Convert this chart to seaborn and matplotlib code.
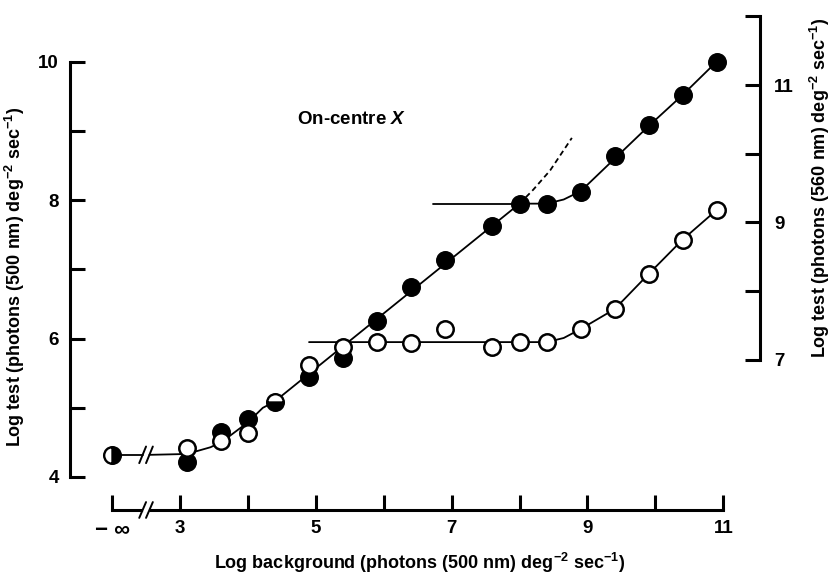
"""
Increment-threshold curves for an on-centre X cell: log test vs log background.
"""

import matplotlib

matplotlib.use("Agg")

import matplotlib.pyplot as plt
import seaborn as sns


# x position used for the "-inf" background column
NEG_INF_POS = 2.0
BREAK_X = 2.5

X_TICKS = [2, 3, 4, 5, 6, 7, 8, 9, 10, 11]
X_TICK_LABELS = ["\u2212 \u221e", "3", "", "5", "", "7", "", "9", "", "11"]
LEFT_TICKS = [4, 5, 6, 7, 8, 9, 10]
LEFT_TICK_LABELS = ["4", "", "6", "", "8", "", "10"]
RIGHT_TICKS = [7, 8, 9, 10, 11, 12]
RIGHT_TICK_LABELS = ["7", "", "9", "", "11", ""]

# filled circles: 500 nm test (left axis)
filled_x = [3.1, 3.6, 4.0, 4.9, 5.4, 5.9, 6.4, 6.9, 7.6, 8.0, 8.4, 8.9, 9.4, 9.9, 10.4, 10.9]
filled_y = [4.22, 4.65, 4.84, 5.45, 5.72, 6.25, 6.75, 7.14, 7.63, 7.95, 7.95, 8.12, 8.64, 9.09, 9.52, 10.00]

# open circles: 560 nm test (right axis)
open_x = [3.1, 3.6, 4.0, 4.9, 5.4, 5.9, 6.4, 6.9, 7.6, 8.0, 8.4, 8.9, 9.4, 9.9, 10.4, 10.9]
open_y = [5.72, 5.82, 5.94, 6.93, 7.19, 7.26, 7.25, 7.45, 7.19, 7.26, 7.26, 7.45, 7.74, 8.25, 8.75, 9.18]

# points where both tests coincide (left-axis units)
both_x = [NEG_INF_POS, 4.4]
both_y = [4.32, 5.08]
both_fill = ["right", "bottom"]

# fitted template curve (left axis)
template_x = [2.55, 3.0, 3.2, 3.45, 3.62, 3.81, 4.0, 4.22, 4.38, 8.0, 8.4, 8.65, 8.9, 9.4, 9.9, 10.4, 10.9]
template_y = [4.32, 4.33, 4.36, 4.43, 4.51, 4.65, 4.79, 5.00, 5.08, 7.95, 7.95, 8.01, 8.13, 8.60, 9.07, 9.52, 10.00]
lead_x = [NEG_INF_POS, 2.45]
lead_y = [4.32, 4.32]
plateau_x = [6.73, 8.0]
plateau_y = [7.95, 7.95]
dashed_x = [8.0, 8.2, 8.45, 8.77]
dashed_y = [7.95, 8.15, 8.43, 8.90]

# open-circle curve (right axis)
open_curve_x = [4.9, 8.4, 8.65, 8.9, 9.4, 9.9, 10.4, 10.9]
open_curve_y = [7.26, 7.26, 7.32, 7.45, 7.74, 8.25, 8.75, 9.18]

FONT = "Liberation Sans"


def draw_break(ax, x, y, transform, dy):
    for off in (-0.05, 0.05):
        ax.plot([x + off - 0.05, x + off + 0.05], [y - dy, y + dy],
                color="black", lw=1.4, transform=transform, clip_on=False, zorder=6)


def main() -> None:
    sns.set_theme(style="ticks")
    plt.rcParams["font.family"] = [FONT, "DejaVu Sans"]
    plt.rcParams["font.weight"] = "bold"
    plt.rcParams["mathtext.fontset"] = "custom"
    plt.rcParams["mathtext.rm"] = f"{FONT}:bold"
    plt.rcParams["mathtext.it"] = f"{FONT}:italic:bold"
    plt.rcParams["mathtext.bf"] = f"{FONT}:bold"

    fig = plt.figure(figsize=(8.37, 5.79), dpi=100)
    ax = fig.add_axes([0.0836, 0.1192, 0.8244, 0.8532])
    ax2 = ax.twinx()

    line_kw = dict(color="black", lw=1.3, sort=False, estimator=None, legend=False)
    sns.lineplot(x=template_x, y=template_y, ax=ax, **line_kw)
    sns.lineplot(x=lead_x, y=lead_y, ax=ax, **line_kw)
    sns.lineplot(x=plateau_x, y=plateau_y, ax=ax, **line_kw)
    sns.lineplot(x=dashed_x, y=dashed_y, ax=ax, linestyle=(0, (3, 2)), **line_kw)
    sns.lineplot(x=open_curve_x, y=open_curve_y, ax=ax2, **line_kw)

    sns.scatterplot(x=filled_x, y=filled_y, ax=ax, s=160, color="black",
                    edgecolor="black", linewidth=1.0, zorder=4, legend=False)
    sns.scatterplot(x=open_x, y=open_y, ax=ax2, s=140, color="white",
                    edgecolor="black", linewidth=1.8, zorder=4, legend=False)
    for bx, by, fs in zip(both_x, both_y, both_fill):
        ax.plot([bx], [by], marker="o", markersize=12, fillstyle=fs,
                markerfacecolor="black", markerfacecoloralt="white",
                markeredgecolor="black", markeredgewidth=1.7, zorder=5)

    ax.set_xlim(1.38, 11.54)
    ax.set_ylim(3.523, 10.662)
    ax2.set_ylim(4.818, 12.004)

    for a in (ax, ax2):
        a.spines["top"].set_visible(False)
    ax.spines["right"].set_visible(False)
    ax2.spines["left"].set_visible(False)
    ax2.spines["bottom"].set_visible(False)
    ax.spines["left"].set_bounds(4, 10)
    ax.spines["bottom"].set_bounds(2, 11)
    ax2.spines["right"].set_bounds(7, 12)
    for sp in (ax.spines["left"], ax.spines["bottom"], ax2.spines["right"]):
        sp.set_linewidth(2.2)
        sp.set_color("black")

    ax.set_xticks(X_TICKS, X_TICK_LABELS)
    ax.set_yticks(LEFT_TICKS, LEFT_TICK_LABELS)
    ax2.set_yticks(RIGHT_TICKS, RIGHT_TICK_LABELS)
    ax.tick_params(axis="x", direction="in", length=11, width=2.2, pad=7,
                   labelsize=13.5, color="black", labelcolor="black")
    ax.tick_params(axis="y", direction="in", length=11, width=2.2, pad=8,
                   labelsize=13.5, color="black", labelcolor="black")
    ax2.tick_params(axis="y", direction="in", length=11, width=2.2, pad=10,
                    labelsize=13.5, color="black", labelcolor="black")
    for lab in ax.get_xticklabels() + ax.get_yticklabels() + ax2.get_yticklabels():
        lab.set_fontweight("bold")
    ax.get_xticklabels()[0].set_fontsize(16)

    ax.set_xlabel(r"Log background (photons (500 nm) deg$^{-2}$ sec$^{-1}$)",
                  fontsize=13, fontweight="bold", color="black")
    ax.set_ylabel(r"Log test (photons (500 nm) deg$^{-2}$ sec$^{-1}$)",
                  fontsize=13, fontweight="bold", color="black")
    ax2.set_ylabel(r"Log test (photons (560 nm) deg$^{-2}$ sec$^{-1}$)",
                   fontsize=13, fontweight="bold", color="black", rotation=90)
    ax.xaxis.set_label_coords(0.506, -0.083)
    ax.yaxis.set_label_coords(-0.062, 0.472)
    ax2.yaxis.set_label_coords(1.07, 0.652)

    ax.text(4.72, 9.16, r"On-centre $X$", fontsize=13.5, fontweight="bold",
            va="center", ha="left", color="black")

    # axis breaks
    draw_break(ax, BREAK_X, 4.32, ax.transData, 0.12)
    draw_break(ax, BREAK_X, 0.0, ax.get_xaxis_transform(), 0.016)
    ax.plot([BREAK_X - 0.03, BREAK_X + 0.03], [0, 0], color="white", lw=3,
            transform=ax.get_xaxis_transform(), clip_on=False, zorder=5)

    fig.savefig("out.png", dpi=100, facecolor="white")
    plt.close(fig)


if __name__ == "__main__":
    main()
